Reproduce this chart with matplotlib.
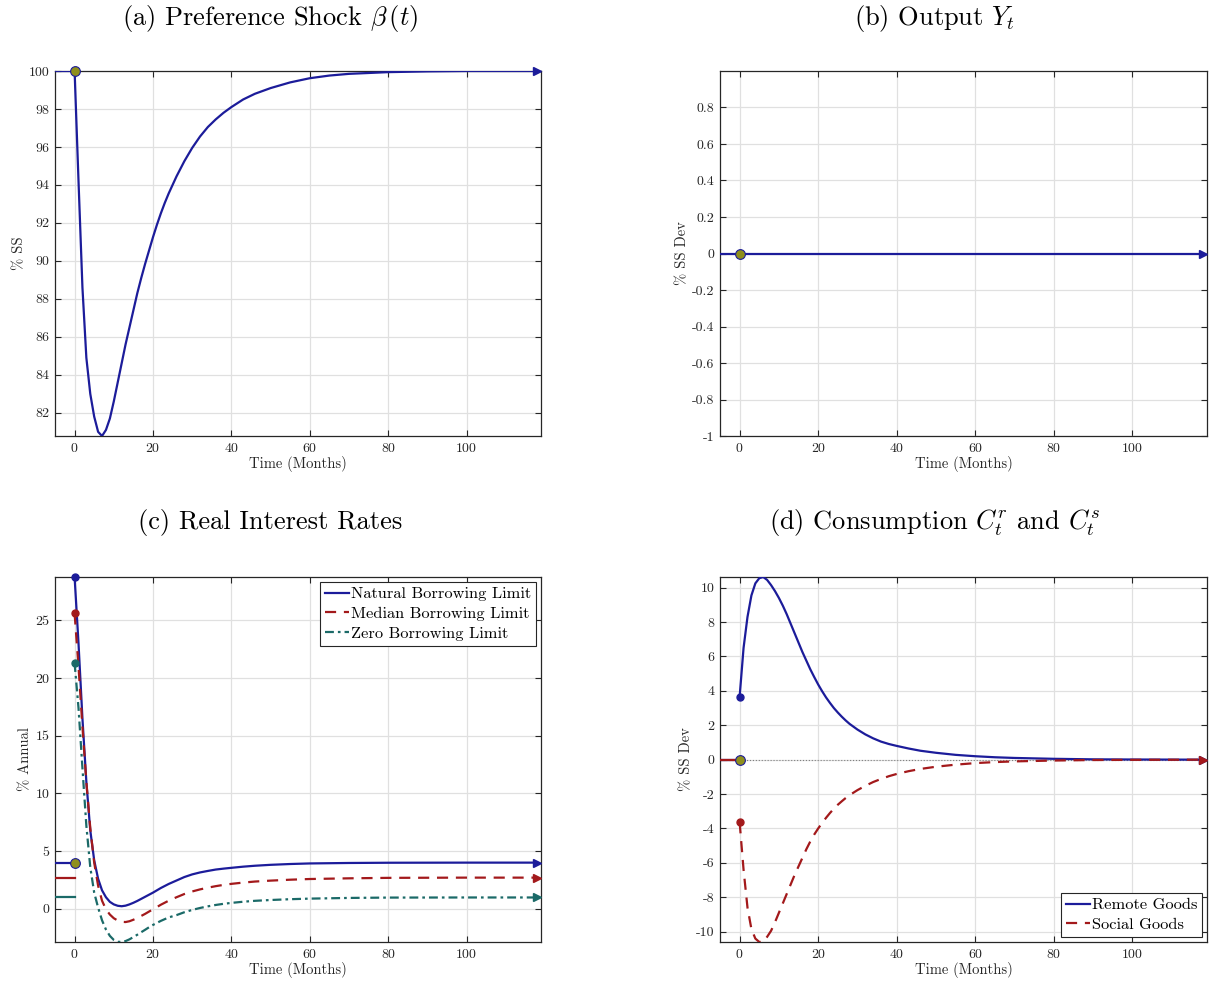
import numpy as np
import matplotlib
matplotlib.use('Agg')
import matplotlib.pyplot as plt
from matplotlib.ticker import FuncFormatter

plt.rcParams['font.family'] = ['cmr10', 'DejaVu Serif']
plt.rcParams['mathtext.fontset'] = 'cm'
plt.rcParams['axes.unicode_minus'] = False
plt.rcParams['axes.formatter.use_mathtext'] = True

BLUE = '#1c1c9a'
RED = '#a3191b'
TEAL = '#1b6a68'
OLIVE = '#8f8f1c'

# pre-shock segment
t_pre = [-5, 0]

# (a) preference shock, % of SS
t_beta = [0, 1, 2, 3, 4, 5, 6, 7, 8, 9, 10, 11, 12, 13, 14, 15, 16, 17, 18, 19, 20,
          21, 22, 23, 24, 25, 26, 27, 28, 29, 30, 32, 34, 36, 38, 40, 43, 46, 50, 55,
          60, 65, 70, 80, 90, 100, 118]
beta = [100, 94.2, 88.6, 84.9, 83.0, 81.8, 81.0, 80.78, 81.1, 81.7, 82.6, 83.6, 84.6,
        85.6, 86.5, 87.4, 88.3, 89.1, 89.85, 90.55, 91.25, 91.9, 92.5, 93.05, 93.55,
        94.0, 94.45, 94.85, 95.25, 95.6, 95.95, 96.55, 97.05, 97.45, 97.8, 98.1, 98.5,
        98.8, 99.1, 99.4, 99.62, 99.76, 99.85, 99.94, 99.98, 100, 100]

# (b) output, % SS dev
t_y = [0, 118]
y_out = [0, 0]

# (c) real interest rates, % annual
t_r = [0, 1, 2, 3, 4, 5, 6, 7, 8, 9, 10, 11, 12, 13, 14, 15, 16, 17, 18, 19, 20,
       22, 24, 26, 28, 30, 32, 34, 36, 38, 40, 43, 46, 50, 55, 60, 70, 80, 100, 118]
r_nat = [28.76, 23.0, 16.5, 11.0, 6.8, 4.2, 2.6, 1.6, 1.0, 0.6, 0.38, 0.26, 0.22,
         0.27, 0.38, 0.52, 0.68, 0.86, 1.04, 1.22, 1.4, 1.8, 2.15, 2.45, 2.75, 2.98,
         3.15, 3.28, 3.4, 3.48, 3.55, 3.65, 3.73, 3.81, 3.88, 3.93, 3.97, 3.99, 4.0, 4.0]
r_med = [25.6, 21.0, 15.8, 11.0, 7.0, 4.0, 2.0, 0.7, -0.05, -0.5, -0.82, -1.02, -1.13,
         -1.15, -1.08, -0.95, -0.8, -0.62, -0.44, -0.24, -0.05, 0.35, 0.7, 1.0, 1.28,
         1.5, 1.68, 1.83, 1.96, 2.07, 2.16, 2.27, 2.36, 2.44, 2.52, 2.58, 2.64, 2.68,
         2.7, 2.7]
r_zero = [21.3, 17.4, 12.2, 7.2, 3.6, 1.4, 0.1, -1.0, -1.8, -2.35, -2.7, -2.86, -2.88,
          -2.8, -2.65, -2.45, -2.25, -2.03, -1.82, -1.6, -1.4, -1.05, -0.75, -0.55,
          -0.3, -0.1, 0.07, 0.21, 0.33, 0.43, 0.51, 0.61, 0.69, 0.76, 0.83, 0.88, 0.94,
          0.97, 0.98, 0.98]
r_ss = [4.0, 2.7, 0.98]
r_labels = ['Natural Borrowing Limit', 'Median Borrowing Limit', 'Zero Borrowing Limit']

# (d) consumption, % SS dev
t_c = [0, 1, 2, 3, 4, 5, 6, 7, 8, 9, 10, 11, 12, 13, 14, 15, 16, 17, 18, 19, 20, 21,
       22, 23, 24, 25, 26, 27, 28, 30, 32, 34, 36, 38, 40, 43, 46, 50, 55, 60, 65, 70,
       80, 90, 100, 118]
c_remote = [3.67, 6.5, 8.3, 9.55, 10.25, 10.55, 10.62, 10.45, 10.15, 9.8, 9.4, 8.95,
            8.45, 7.9, 7.35, 6.8, 6.25, 5.75, 5.25, 4.8, 4.37, 3.98, 3.62, 3.3, 3.0,
            2.74, 2.5, 2.28, 2.08, 1.75, 1.47, 1.24, 1.05, 0.91, 0.8, 0.65, 0.52, 0.4,
            0.28, 0.2, 0.14, 0.1, 0.05, 0.02, 0.01, 0]
c_social = [-3.64, -6.4, -8.6, -9.85, -10.4, -10.6, -10.58, -10.3, -9.95, -9.45, -8.9,
            -8.35, -7.8, -7.25, -6.7, -6.2, -5.7, -5.2, -4.75, -4.35, -4.0, -3.68,
            -3.38, -3.1, -2.85, -2.62, -2.42, -2.23, -2.06, -1.77, -1.52, -1.3, -1.12,
            -0.96, -0.83, -0.67, -0.54, -0.41, -0.29, -0.2, -0.14, -0.1, -0.05, -0.02,
            -0.01, 0]
c_labels = ['Remote Goods', 'Social Goods']

fig = plt.figure(figsize=(12.16, 9.83), dpi=100)
W, H = 1216, 983


def make_ax(l, t, r, b):
    return fig.add_axes([l / W, 1 - b / H, (r - l) / W, (b - t) / H])


def fmt(v, p):
    v = round(v, 6)
    return '0' if v == 0 else f'{v:g}'


def style(ax, ylabel):
    ax.set_xlim(-5, 119)
    ax.set_xticks([0, 20, 40, 60, 80, 100])
    ax.tick_params(direction='in', top=True, right=True, length=4, width=0.8,
                   labelsize=10, pad=4, colors='#262626')
    ax.grid(True, color='#e0e0e0', lw=0.9)
    ax.set_axisbelow(True)
    for s in ax.spines.values():
        s.set_color('#262626')
        s.set_linewidth(0.9)
    ax.yaxis.set_major_formatter(FuncFormatter(fmt))
    ax.set_xlabel('Time (Months)', fontsize=10.5, labelpad=1, color='#262626')
    ax.set_ylabel(ylabel, fontsize=10.5, labelpad=2, color='#262626')


def series(ax, t, y, ss, color, ls, lw=1.6, start=True, label=None):
    ax.plot(t_pre, [ss, ss], color=color, lw=lw, ls='-', zorder=3)
    line, = ax.plot(t, y, color=color, lw=lw, zorder=3, label=label)
    if isinstance(ls, tuple):
        line.set_dashes(ls)
    if start:
        ax.plot(t[0], y[0], 'o', color=color, ms=5, zorder=4, clip_on=False)
    ax.plot(t[-1], y[-1], '>', color=color, ms=6, zorder=4, clip_on=False)
    return line


def ss_marker(ax, y):
    ax.plot(0, y, 'o', mfc=OLIVE, mec=BLUE, mew=0.8, ms=7, zorder=5, clip_on=False)


def legend(ax, handles, loc):
    leg = ax.legend(handles=handles, loc=loc, fontsize=11.8, fancybox=False,
                    framealpha=1, edgecolor='#262626', handlelength=1.5,
                    handletextpad=0.1, borderpad=0.3, labelspacing=0.33,
                    borderaxespad=0.3)
    leg.get_frame().set_linewidth(0.8)


# (a)
ax = make_ax(55, 71, 541, 436)
series(ax, t_beta, beta, 100, BLUE, '-', start=False)
ss_marker(ax, 100)
ax.set_ylim(min(beta), 100)
ax.set_yticks(np.arange(82, 101, 2))
style(ax, '% SS')

# (b)
ax = make_ax(720, 71, 1207, 436)
series(ax, t_y, y_out, 0, BLUE, '-', start=False)
ss_marker(ax, 0)
ax.set_ylim(-1, 1)
ax.set_yticks(np.round(np.arange(-1, 0.81, 0.2), 1))
style(ax, '% SS Dev')

# (c)
ax = make_ax(55, 577, 541, 942)
h1 = series(ax, t_r, r_nat, r_ss[0], BLUE, '-', label=r_labels[0])
h2 = series(ax, t_r, r_med, r_ss[1], RED, (5, 3.5), label=r_labels[1])
h3 = series(ax, t_r, r_zero, r_ss[2], TEAL, (4, 1.8, 1.2, 1.8), label=r_labels[2])
ss_marker(ax, r_ss[0])
ax.set_ylim(min(r_zero), max(r_nat))
ax.set_yticks([0, 5, 10, 15, 20, 25])
style(ax, '% Annual')
legend(ax, [h1, h2, h3], 'upper right')

# (d)
ax = make_ax(720, 577, 1207, 942)
ax.axhline(0, color='#808080', lw=0.8, ls=':', zorder=2)
h1 = series(ax, t_c, c_remote, 0, BLUE, '-', label=c_labels[0])
h2 = series(ax, t_c, c_social, 0, RED, (5, 3.5), label=c_labels[1])
ss_marker(ax, 0)
ax.set_ylim(min(c_social), max(c_remote))
ax.set_yticks(np.arange(-10, 11, 2))
style(ax, '% SS Dev')
legend(ax, [h1, h2], 'lower right')

# titles
tkw = dict(fontsize=19, ha='center', va='center')
fig.text(270 / W, 1 - 18 / H, r'(a) Preference Shock $\beta\,(t)$', **tkw)
fig.text(935 / W, 1 - 18 / H, r'(b) Output $Y_t$', **tkw)
fig.text(270 / W, 1 - 522 / H, '(c) Real Interest Rates', **tkw)
fig.text(935 / W, 1 - 522 / H, r'(d) Consumption $C_t^r$ and $C_t^s$', **tkw)

fig.savefig('out.png', dpi=100)
